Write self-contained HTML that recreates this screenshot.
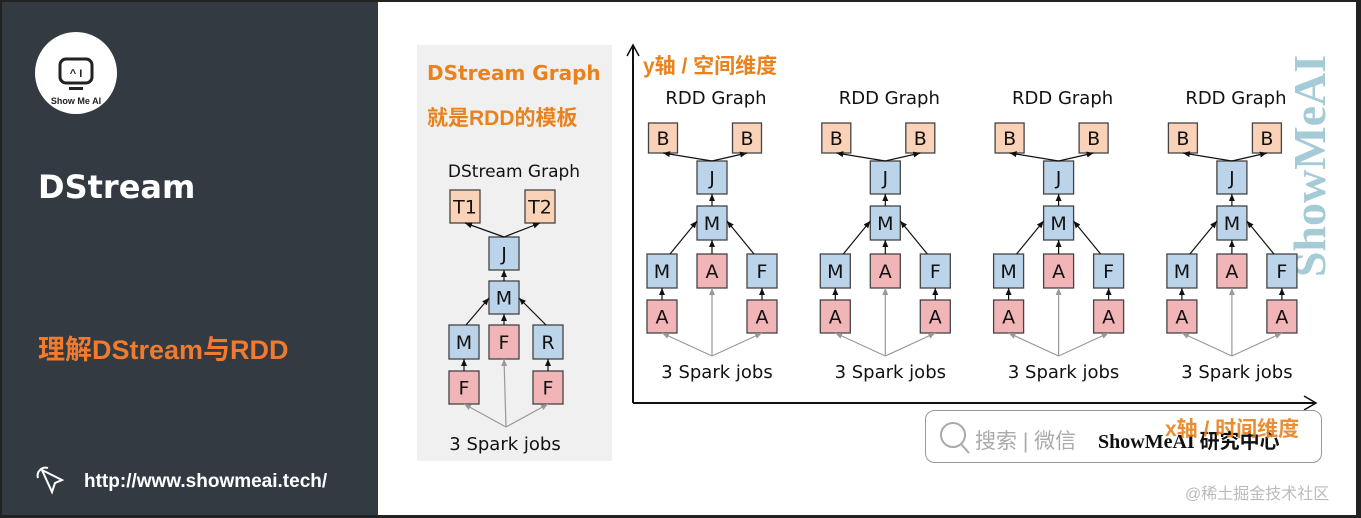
<!DOCTYPE html>
<html><head><meta charset="utf-8"><style>
html,body{margin:0;padding:0}
body{width:1361px;height:518px;position:relative;overflow:hidden;background:#fff;font-family:"Liberation Sans","Noto Sans CJK SC",sans-serif}
.abs{position:absolute;white-space:nowrap}
</style></head><body>
<div class="abs" style="left:0;top:0;width:378px;height:518px;background:#343a42"></div>
<div class="abs" style="left:0;top:0;width:1361px;height:2px;background:#222"></div>
<div class="abs" style="left:0;top:515px;width:1361px;height:3px;background:#222"></div>
<div class="abs" style="left:1356px;top:0;width:5px;height:518px;background:#222"></div>
<div class="abs" style="left:0;top:0;width:2px;height:518px;background:#222"></div>
<div class="abs" style="left:417px;top:45px;width:195px;height:416px;background:#f0f0f0"></div>
<div class="abs" style="left:1170px;top:140px;width:280px;text-align:center;transform:rotate(-90deg);font-size:46px;font-weight:bold;color:#8fbfcc;font-family:'Liberation Serif',serif;opacity:.8;line-height:52px">ShowMeAI</div>
<svg class="abs" style="left:0;top:0" width="1361" height="518" id="s">
<defs>
<marker id="ak" markerWidth="8" markerHeight="8" refX="7" refY="4" orient="auto" markerUnits="userSpaceOnUse"><path d="M0,1 L7,4 L0,7z" fill="#111"/></marker>
<marker id="ag" markerWidth="8" markerHeight="8" refX="7" refY="4" orient="auto" markerUnits="userSpaceOnUse"><path d="M0,1 L7,4 L0,7z" fill="#999"/></marker>
</defs>
<circle cx="76" cy="73" r="41" fill="#fff"/>
<rect x="60" y="59" width="32" height="24" rx="6" fill="none" stroke="#222" stroke-width="3"/>
<text x="76" y="77" font-size="11" font-weight="bold" text-anchor="middle" fill="#222">^ I</text>
<rect x="69" y="87" width="14" height="3" fill="#222"/>
<text x="76" y="104" font-size="9" font-weight="bold" text-anchor="middle" fill="#222">Show Me AI</text>
<path d="M42,470 l20,10 -7,3 -3,9z" fill="none" stroke="#fff" stroke-width="2"/>
<path d="M38,478 a8,8 0 0 1 10,-10" fill="none" stroke="#fff" stroke-width="2"/>
<line x1="633" y1="403" x2="633" y2="45" stroke="#111" stroke-width="2"/>
<path d="M627,56 L633,45 L639,56" fill="none" stroke="#111" stroke-width="1.5"/>
<line x1="633" y1="403" x2="1316" y2="403" stroke="#111" stroke-width="2"/>
<path d="M1304,396 L1316,403 L1304,410" fill="none" stroke="#111" stroke-width="1.5"/>
<rect x="925.5" y="410.5" width="396" height="52" rx="9" fill="#fff" stroke="#999"/>
<circle cx="953" cy="435" r="12" fill="none" stroke="#aaa" stroke-width="2"/>
<line x1="961" y1="444" x2="969" y2="453" stroke="#aaa" stroke-width="2"/>
<g id="g"></g>
</svg>
<div class="abs" style="left:38px;top:168px;font-size:32px;font-weight:bold;color:#fff;font-family:'DejaVu Sans',sans-serif">DStream</div>
<div class="abs" style="left:38px;top:328px;font-size:27px;font-weight:bold;color:#f07a2d">理解DStream与RDD</div>
<div class="abs" style="left:84px;top:471px;font-size:19px;color:#fff;font-weight:bold">http://www.showmeai.tech/</div>
<div class="abs" style="left:427px;top:61px;font-size:20px;font-weight:bold;color:#e9821d;font-family:'DejaVu Sans','Noto Sans CJK SC',sans-serif">DStream Graph</div>
<div class="abs" style="left:427px;top:102px;font-size:21px;color:#e9821d;font-weight:bold">就是RDD的模板</div>
<div class="abs" style="left:643px;top:50px;font-size:21px;font-weight:bold;color:#e9821d">y轴 / 空间维度</div>
<div class="abs" style="left:1098px;top:425px;font-size:20px;color:#111;font-weight:bold;font-family:'Liberation Serif','Noto Sans CJK SC',serif">ShowMeAI 研究中心</div>
<div class="abs" style="left:1165px;top:413px;font-size:21px;font-weight:bold;color:#e9821d;opacity:.9">x轴 / 时间维度</div>
<div class="abs" style="left:975px;top:425px;font-size:21px;color:#aaa">搜索 | 微信</div>
<div class="abs" style="left:1185px;top:480px;font-size:16px;color:#bbb">@稀土掘金技术社区</div>
<script>
var g=document.getElementById('g'),h='';
var C={o:'#f9d2b8',b:'#bcd4ea',p:'#f2b5b7'};
function box(cx,y1,y2,w,c,t){h+='<rect x="'+(cx-w/2)+'" y="'+y1+'" width="'+w+'" height="'+(y2-y1)+'" fill="'+C[c]+'" stroke="#444" stroke-width="1.3"/><text x="'+cx+'" y="'+((y1+y2)/2+7)+'" font-size="19" text-anchor="middle" fill="#111" font-family="DejaVu Sans,sans-serif">'+t+'</text>';}
function ar(x1,y1,x2,y2,gr){h+='<line x1="'+x1+'" y1="'+y1+'" x2="'+x2+'" y2="'+y2+'" stroke="'+(gr?'#999':'#111')+'" stroke-width="1.2" marker-end="url(#'+(gr?'ag':'ak')+')"/>';}
function txt(x,y,t,s){h+='<text x="'+x+'" y="'+y+'" font-size="'+s+'" text-anchor="middle" fill="#111" font-family="DejaVu Sans,sans-serif">'+t+'</text>';}
for(var i=0;i<4;i++){var d=i*173.3,c=712+d,l=662+d,r=762+d,bl=663+d,br=747+d;
txt(c+4,104,'RDD Graph',18);
box(bl,123,153,29,'o','B');box(br,123,153,29,'o','B');
box(c,161,194,30,'b','J');box(c,206,240,30,'b','M');
box(l,254,288,30,'b','M');box(c,254,288,30,'p','A');box(r,254,288,30,'b','F');
box(l,300,333,30,'p','A');box(r,300,333,30,'p','A');
ar(c,161,bl,153);ar(c,161,br,153);ar(c,206,c,194);
ar(l+8,254,c-15,221);ar(r-8,254,c+15,221);ar(c,254,c,240);
ar(l,300,l,288);ar(r,300,r,288);
ar(c,356,l,333,1);ar(c,356,c,288,1);ar(c,356,r,333,1);
txt(c+5,378,'3 Spark jobs',18);}
var c=504,l=464,r=548;
txt(514,177,'DStream Graph',17);
box(465,190,223,30,'o','T1');box(540,190,223,30,'o','T2');
box(c,237,270,30,'b','J');box(c,281,314,30,'b','M');
box(l,325,359,30,'b','M');box(c,325,359,30,'p','F');box(r,325,359,30,'b','R');
box(l,371,404,30,'p','F');box(r,371,404,30,'p','F');
ar(c,237,465,223);ar(c,237,540,223);ar(c,281,c,270);
ar(l+2,325,c-15,298);ar(r-2,325,c+15,298);ar(c,325,c,314);
ar(l,371,l,359);ar(r,371,r,359);
ar(c+2,427,l,404,1);ar(c+2,427,c,359,1);ar(c+2,427,r,404,1);
txt(505,450,'3 Spark jobs',18);
g.innerHTML=h;
</script>
</body></html>
